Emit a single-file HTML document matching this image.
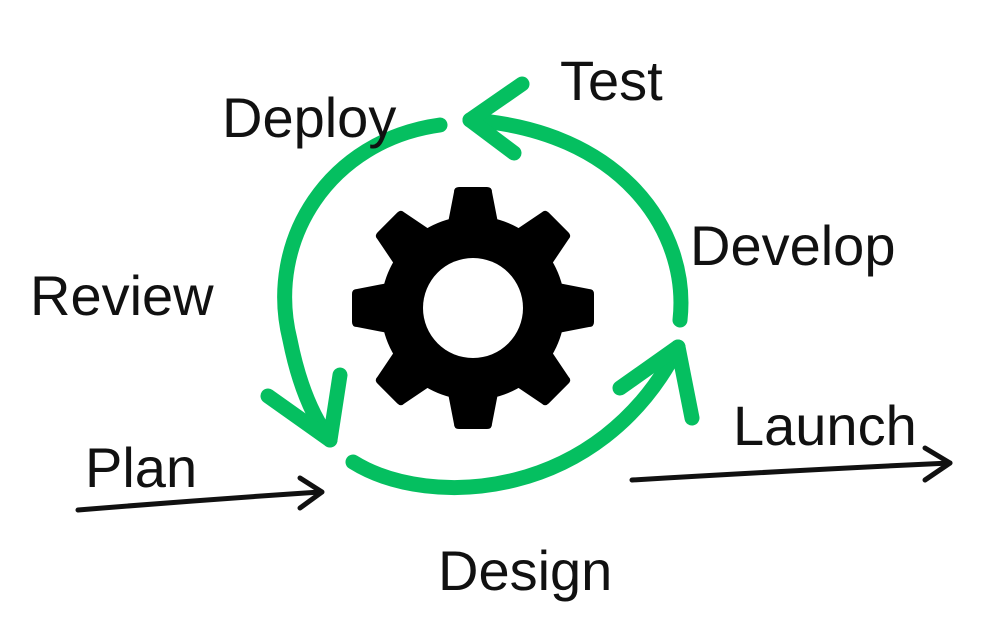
<!DOCTYPE html>
<html><head><style>
html,body{margin:0;padding:0;background:#fff;}
svg{display:block}
text{font-family:"Liberation Sans",sans-serif;fill:#111;}
</style></head><body>
<svg width="999" height="637" viewBox="0 0 999 637" xmlns="http://www.w3.org/2000/svg">
<g fill="none" stroke="#05bf60" stroke-width="15" stroke-linecap="round" stroke-linejoin="round">
<path d="M 440 125 C 330 140 265 240 290 340 C 300 390 315 420 330 440"/>
<path d="M 268 396 L 330 440 L 340 375"/>
<path d="M 353 462 C 430 510 600 500 678 347"/>
<path d="M 620 388 L 678 347 L 692 418"/>
<path d="M 680 320 C 690 230 620 130 470 120"/>
<path d="M 522 84 L 470 120 L 514 153"/>
</g>
<g transform="translate(473,308)" fill="#000">
<circle r="92"/>
<g id="t"><path d="M -26 -80 L -19 -116 Q -19 -121 -14 -121 L 14 -121 Q 19 -121 19 -116 L 26 -80 Z"/></g>
<use href="#t" transform="rotate(45)"/>
<use href="#t" transform="rotate(90)"/>
<use href="#t" transform="rotate(135)"/>
<use href="#t" transform="rotate(180)"/>
<use href="#t" transform="rotate(225)"/>
<use href="#t" transform="rotate(270)"/>
<use href="#t" transform="rotate(315)"/>
<circle r="50" fill="#fff"/>
</g>
<g fill="none" stroke="#111" stroke-width="5" stroke-linecap="round" stroke-linejoin="round">
<path d="M 78 510 Q 200 500 320 492"/>
<path d="M 300 478 L 322 492 L 300 508"/>
<path d="M 632 480 Q 800 470 950 463"/>
<path d="M 925 448 L 950 463 L 925 480"/>
</g>
<g font-size="56">
<text x="222" y="137">Deploy</text>
<text x="560" y="100">Test</text>
<text x="690" y="265">Develop</text>
<text x="30" y="315">Review</text>
<text x="85" y="487">Plan</text>
<text x="733" y="445">Launch</text>
<text x="438" y="590">Design</text>
</g>
</svg>
</body></html>
